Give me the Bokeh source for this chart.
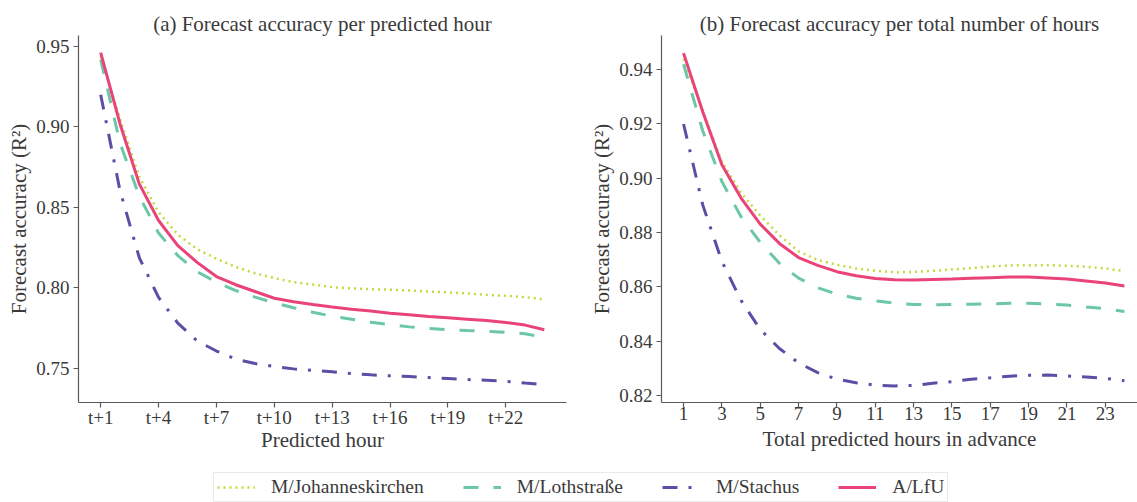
from bokeh.plotting import figure
from bokeh.layouts import column, row
from bokeh.models import FixedTicker, Range1d, Legend, LegendItem, NumeralTickFormatter
from bokeh.embed import file_html
from bokeh.resources import INLINE

# ---------------- data ----------------
hours = list(range(1, 25))

# (a) Forecast accuracy per predicted hour
a_johannes = [0.944, 0.905, 0.869, 0.847, 0.833, 0.824, 0.818, 0.813, 0.809, 0.806, 0.8035, 0.802,
              0.8004, 0.7996, 0.7991, 0.7988, 0.7983, 0.7977, 0.7971, 0.7965, 0.7956, 0.7950, 0.7942, 0.7929]
a_loth = [0.942, 0.890, 0.857, 0.834, 0.820, 0.810, 0.8035, 0.7983, 0.7942, 0.7907, 0.7876, 0.7848,
          0.7823, 0.7805, 0.7786, 0.7770, 0.7757, 0.7747, 0.7739, 0.7734, 0.7730, 0.7724, 0.7714, 0.7693]
a_stachus = [0.920, 0.8605, 0.8188, 0.794, 0.778, 0.767, 0.7607, 0.7557, 0.7529, 0.7511, 0.7496, 0.7487,
             0.7478, 0.7467, 0.7459, 0.7453, 0.7448, 0.7442, 0.7436, 0.7430, 0.7425, 0.7419, 0.7408, 0.7399]
a_lfu = [0.9461, 0.902, 0.8646, 0.8418, 0.8262, 0.8158, 0.8070, 0.8019, 0.7977, 0.7935, 0.7913, 0.7896,
         0.7880, 0.7867, 0.7855, 0.7842, 0.7832, 0.7821, 0.7813, 0.7805, 0.7797, 0.7784, 0.7768, 0.7739]

# (b) Forecast accuracy per total number of hours
b_johannes = [0.944, 0.925, 0.906, 0.8946, 0.8863, 0.879, 0.8731, 0.8699, 0.8681, 0.8668, 0.8659, 0.8654,
              0.8655, 0.8659, 0.8664, 0.8669, 0.8675, 0.8679, 0.8680, 0.8680, 0.8678, 0.8674, 0.8668, 0.8658]
b_loth = [0.942, 0.9175, 0.8988, 0.8858, 0.8764, 0.8687, 0.8632, 0.8597, 0.8573, 0.8558, 0.8548, 0.8540,
          0.8535, 0.8534, 0.8535, 0.8536, 0.8537, 0.8540, 0.8540, 0.8537, 0.8533, 0.8526, 0.8520, 0.8509]
b_stachus = [0.920, 0.8902, 0.8694, 0.8550, 0.8443, 0.8373, 0.8320, 0.8284, 0.8260, 0.8247, 0.8238, 0.8235,
             0.8237, 0.8245, 0.8251, 0.8260, 0.8265, 0.8271, 0.8274, 0.8275, 0.8272, 0.8268, 0.8263, 0.8254]
b_lfu = [0.9461, 0.9245, 0.9050, 0.8927, 0.8831, 0.8760, 0.8708, 0.8679, 0.8656, 0.8641, 0.8631, 0.8626,
         0.8625, 0.8627, 0.8629, 0.8632, 0.8634, 0.8636, 0.8636, 0.8633, 0.8629, 0.8622, 0.8614, 0.8603]

series_names = ["M/Johanneskirchen", "M/Lothstraße", "M/Stachus", "A/LfU"]

a_xticks = [1, 4, 7, 10, 13, 16, 19, 22]
a_xtick_labels = ["t+1", "t+4", "t+7", "t+10", "t+13", "t+16", "t+19", "t+22"]
a_yticks = [0.75, 0.80, 0.85, 0.90, 0.95]
b_xticks = [1, 3, 5, 7, 9, 11, 13, 15, 17, 19, 21, 23]
b_yticks = [0.82, 0.84, 0.86, 0.88, 0.90, 0.92, 0.94]

# ---------------- styles ----------------
FONT = "'Liberation Serif', 'Times New Roman', Times, serif"
TEXT = "#3a3a3a"
AXIS = "#5a5a5a"
styles = [
    dict(color="#c3da3a", line_width=2.5, line_dash="2 4"),
    dict(color="#6bc7a6", line_width=3, line_dash="15 15"),
    dict(color="#5a4ea6", line_width=3, line_dash="15 11 3 11"),
    dict(color="#ea4377", line_width=3, line_dash="solid"),
]


def make_fig(width, border_left, border_right, xr, yr, title, xlabel):
    p = figure(width=width, height=458, x_range=Range1d(*xr), y_range=Range1d(*yr),
               output_backend="svg", toolbar_location=None, title=title,
               min_border_left=border_left, min_border_right=border_right,
               min_border_top=35, min_border_bottom=56)
    p.outline_line_color = None
    p.grid.visible = False
    p.background_fill_color = "white"
    p.title.text_font = FONT
    p.title.text_font_size = "21px"
    p.title.text_font_style = "normal"
    p.title.text_color = TEXT
    p.title.align = "center"
    p.title.standoff = 0
    for ax in p.axis:
        ax.axis_line_color = AXIS
        ax.axis_line_width = 1.2
        ax.major_tick_line_color = AXIS
        ax.major_tick_line_width = 1.2
        ax.major_tick_out = 5
        ax.major_tick_in = 0
        ax.minor_tick_line_color = None
        ax.major_label_text_font = FONT
        ax.major_label_text_font_size = "19px"
        ax.major_label_text_color = TEXT
        ax.axis_label_text_font = FONT
        ax.axis_label_text_font_size = "21px"
        ax.axis_label_text_font_style = "normal"
        ax.axis_label_text_color = TEXT
    p.xaxis.major_label_standoff = -1
    p.yaxis.major_label_standoff = 4
    p.xaxis.axis_label_standoff = -3
    p.yaxis.axis_label_standoff = 2
    p.xaxis.axis_label = xlabel
    p.yaxis.axis_label = "Forecast accuracy (R²)"
    return p


pa = make_fig(570, 78, 4, (-0.15, 25.15), (0.7287, 0.9568),
              "(a) Forecast accuracy per predicted hour", "Predicted hour")
pa.xaxis.ticker = FixedTicker(ticks=a_xticks)
pa.xaxis.major_label_overrides = {t: lab for t, lab in zip(a_xticks, a_xtick_labels)}
pa.yaxis.ticker = FixedTicker(ticks=a_yticks)
pa.yaxis.formatter = NumeralTickFormatter(format="0.00")

pb = make_fig(567, 91, 0, (-0.15, 24.68), (0.8174, 0.9526),
              "(b) Forecast accuracy per total number of hours", "Total predicted hours in advance")
pb.xaxis.ticker = FixedTicker(ticks=b_xticks)
pb.yaxis.ticker = FixedTicker(ticks=b_yticks)
pb.yaxis.formatter = NumeralTickFormatter(format="0.00")
pb.xaxis.axis_label_standoff = 4

for vals, st in zip([a_johannes, a_loth, a_stachus, a_lfu], styles):
    pa.line(hours, vals, **st)
for vals, st in zip([b_johannes, b_loth, b_stachus, b_lfu], styles):
    pb.line(hours, vals, **st)

# ---------------- legend strip ----------------
pl = figure(width=1137, height=44, x_range=Range1d(100, 101), y_range=Range1d(100, 101),
            output_backend="svg", toolbar_location=None, min_border=0,
            x_axis_location=None, y_axis_location=None)
pl.outline_line_color = None
pl.grid.visible = False
items = []
for name, vals, st in zip(series_names, [a_johannes, a_loth, a_stachus, a_lfu], styles):
    r = pl.line(hours, vals, **st)
    items.append(LegendItem(label=name, renderers=[r]))
leg = Legend(items=items, orientation="horizontal", location=(213, 0),
             margin=0, padding=3, spacing=39, label_standoff=16,
             glyph_width=38, glyph_height=18,
             label_text_font=FONT, label_text_font_size="19.5px", label_text_color=TEXT,
             border_line_color="#d5d5d5", border_line_width=1,
             background_fill_color="white", background_fill_alpha=1.0)
pl.add_layout(leg, "center")

layout = column(row(pa, pb), pl)
open("out.html", "w").write(file_html(layout, INLINE))
